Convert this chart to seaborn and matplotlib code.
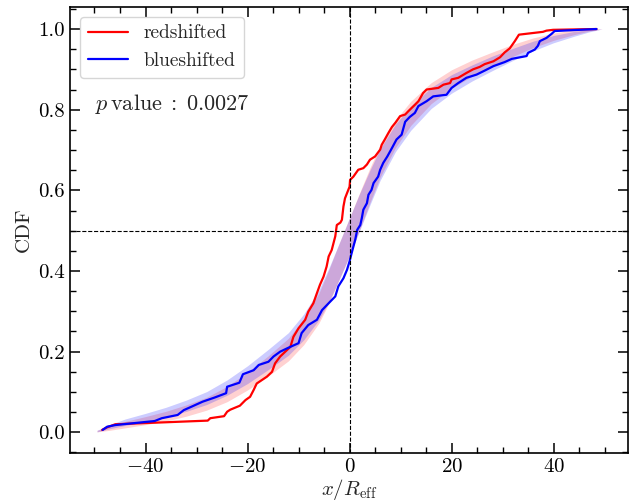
import matplotlib
matplotlib.use("Agg")
import numpy as np
import pandas as pd
import seaborn as sns
import matplotlib.pyplot as plt
from matplotlib.ticker import MultipleLocator

# Cumulative distribution of x/R_eff for the two samples
red_x = [-48.5, -47.6, -45.9, -27.8, -27.3, -24.6, -24.0, -23.4, -21.5, -20.4,
         -19.5, -18.8, -18.2, -16.2, -15.2, -14.6, -13.6, -11.6, -11.0, -10.0,
         -8.7, -8.1, -7.1, -6.4, -5.8, -5.1, -4.5, -4.1, -3.5, -2.8,
         -2.5, -1.8, -1.5, -1.2, -0.9, -0.5, 0.0, 0.1, 0.75, 1.7,
         2.7, 3.4, 4.0, 5.0, 6.0, 6.3, 6.9, 7.6, 8.3, 9.0,
         9.9, 10.9, 11.5, 12.8, 13.5, 14.4, 15.1, 17.4, 18.4, 19.7,
         20.0, 21.3, 22.9, 24.2, 25.5, 26.5, 28.2, 29.5, 30.4, 31.4,
         32.4, 33.2, 37.9, 38.6, 39.9, 48.4]
red_cdf = [0.006, 0.012, 0.020, 0.029, 0.035, 0.040, 0.051, 0.056, 0.066, 0.080,
           0.088, 0.105, 0.121, 0.138, 0.150, 0.171, 0.188, 0.212, 0.237, 0.258,
           0.279, 0.299, 0.320, 0.345, 0.366, 0.386, 0.411, 0.436, 0.452, 0.486,
           0.514, 0.520, 0.527, 0.560, 0.580, 0.593, 0.609, 0.626, 0.634, 0.651,
           0.655, 0.664, 0.676, 0.684, 0.701, 0.713, 0.726, 0.742, 0.757, 0.768,
           0.784, 0.788, 0.796, 0.812, 0.821, 0.841, 0.850, 0.854, 0.862, 0.866,
           0.875, 0.879, 0.891, 0.900, 0.906, 0.913, 0.920, 0.930, 0.942, 0.952,
           0.970, 0.986, 0.993, 0.996, 0.998, 1.000]

blue_x = [-48.4, -47.5, -45.9, -38.2, -36.8, -33.7, -32.5, -30.9, -28.8, -26.5,
          -24.2, -24.0, -21.6, -20.9, -18.8, -17.8, -15.9, -14.9, -13.6, -11.6,
          -10.0, -9.4, -8.1, -6.4, -5.4, -3.8, -2.8, -2.2, -1.2, -0.5,
          0.0, 0.4, 1.1, 1.5, 2.1, 2.4, 2.7, 3.4, 3.7, 4.3,
          4.7, 5.6, 6.0, 6.6, 7.4, 8.4, 9.2, 10.2, 10.9, 11.8,
          12.8, 13.5, 15.1, 16.4, 19.0, 20.0, 21.3, 22.9, 24.9, 26.5,
          28.2, 30.4, 31.8, 34.7, 35.0, 36.3, 36.9, 37.3, 38.6, 39.6,
          40.2, 48.4]
blue_cdf = [0.006, 0.014, 0.018, 0.028, 0.035, 0.043, 0.055, 0.064, 0.076, 0.086,
            0.097, 0.113, 0.123, 0.144, 0.154, 0.167, 0.175, 0.188, 0.200, 0.212,
            0.221, 0.246, 0.266, 0.279, 0.303, 0.324, 0.337, 0.362, 0.382, 0.403,
            0.424, 0.444, 0.477, 0.502, 0.514, 0.531, 0.552, 0.568, 0.589, 0.601,
            0.618, 0.634, 0.651, 0.668, 0.684, 0.707, 0.726, 0.738, 0.770, 0.782,
            0.792, 0.809, 0.821, 0.833, 0.837, 0.854, 0.866, 0.879, 0.887, 0.897,
            0.908, 0.918, 0.926, 0.933, 0.941, 0.949, 0.958, 0.970, 0.978, 0.988,
            0.995, 1.000]

# Envelopes of the reference CDFs for each sample
band_x = [-49.5, -47, -44, -40, -36, -32, -28, -24, -20, -16, -12, -9, -6, -4, -2,
          0, 2, 4, 6, 9, 12, 16, 20, 24, 28, 32, 36, 40, 44, 47, 49.5]
red_lo = [0.001, 0.005, 0.011, 0.019, 0.028, 0.040, 0.055, 0.076, 0.105, 0.139,
          0.177, 0.217, 0.271, 0.321, 0.380, 0.438, 0.503, 0.570, 0.633, 0.706,
          0.761, 0.815, 0.853, 0.883, 0.907, 0.932, 0.954, 0.972, 0.986, 0.995, 1.0]
red_hi = [0.005, 0.015, 0.027, 0.039, 0.052, 0.068, 0.087, 0.114, 0.149, 0.189,
          0.233, 0.281, 0.345, 0.405, 0.470, 0.532, 0.595, 0.656, 0.711, 0.774,
          0.821, 0.867, 0.899, 0.923, 0.943, 0.962, 0.978, 0.990, 0.998, 1.0, 1.0]
blue_lo = [0.001, 0.009, 0.017, 0.027, 0.038, 0.052, 0.069, 0.092, 0.121, 0.155,
           0.191, 0.229, 0.279, 0.325, 0.380, 0.438, 0.501, 0.564, 0.625, 0.696,
           0.749, 0.803, 0.841, 0.871, 0.897, 0.922, 0.946, 0.966, 0.982, 0.993, 1.0]
blue_hi = [0.005, 0.019, 0.033, 0.047, 0.062, 0.080, 0.101, 0.130, 0.165, 0.205,
           0.247, 0.293, 0.353, 0.409, 0.470, 0.532, 0.593, 0.650, 0.703, 0.764,
           0.809, 0.855, 0.887, 0.911, 0.933, 0.952, 0.970, 0.984, 0.994, 0.999, 1.0]

labels = ["redshifted", "blueshifted"]
p_value = 0.0027

sns.set_style("ticks")
plt.rcParams.update({
    "font.family": "serif",
    "font.serif": ["cmr10"],
    "mathtext.fontset": "cm",
    "axes.formatter.use_mathtext": True,
    "axes.unicode_minus": True,
    "xtick.direction": "in",
    "ytick.direction": "in",
    "xtick.top": True,
    "ytick.right": True,
    "xtick.major.size": 7,
    "ytick.major.size": 7,
    "xtick.minor.size": 4.5,
    "ytick.minor.size": 4.5,
    "xtick.major.width": 1.1,
    "ytick.major.width": 1.1,
    "xtick.minor.width": 1.0,
    "ytick.minor.width": 1.0,
    "axes.linewidth": 1.2,
    "axes.edgecolor": "black",
    "xtick.color": "black",
    "ytick.color": "black",
    "xtick.labelsize": 15,
    "ytick.labelsize": 15,
})

fig = plt.figure(figsize=(6.3, 5.03), dpi=100)
ax = fig.add_axes([70 / 630, 50 / 503, 557.6 / 630, 446 / 503])

ax.fill_between(band_x, red_lo, red_hi, color="red", alpha=0.18, lw=0)
ax.fill_between(band_x, blue_lo, blue_hi, color="blue", alpha=0.2, lw=0)

df_red = pd.DataFrame({"x": red_x, "cdf": red_cdf})
df_blue = pd.DataFrame({"x": blue_x, "cdf": blue_cdf})
sns.lineplot(data=df_red, x="x", y="cdf", color="red", lw=1.6, sort=False,
             estimator=None, label=labels[0], ax=ax)
sns.lineplot(data=df_blue, x="x", y="cdf", color="blue", lw=1.6, sort=False,
             estimator=None, label=labels[1], ax=ax)

ax.axvline(0, color="k", ls="--", lw=0.8)
ax.axhline(0.5, color="k", ls="--", lw=0.8)

ax.set_xlim(-54.8, 54.5)
ax.set_ylim(-0.0513, 1.0546)
ax.xaxis.set_major_locator(MultipleLocator(20))
ax.xaxis.set_minor_locator(MultipleLocator(5))
ax.yaxis.set_major_locator(MultipleLocator(0.2))
ax.yaxis.set_minor_locator(MultipleLocator(0.05))
ax.yaxis.set_major_formatter(matplotlib.ticker.FormatStrFormatter("%.1f"))
ax.tick_params(which="both", top=True, right=True)

ax.set_xlabel(r"$x/R_{\rm eff}$", fontsize=15, labelpad=1)
ax.set_ylabel("CDF", fontsize=15)

ax.legend(loc="upper left", fontsize=14, handlelength=2.1)
ax.text(0.045, 0.769, r"$p\,\mathrm{value}\;:\;%.4f$" % p_value,
        transform=ax.transAxes, fontsize=16, va="baseline", ha="left")

fig.savefig("out.png", dpi=100)
